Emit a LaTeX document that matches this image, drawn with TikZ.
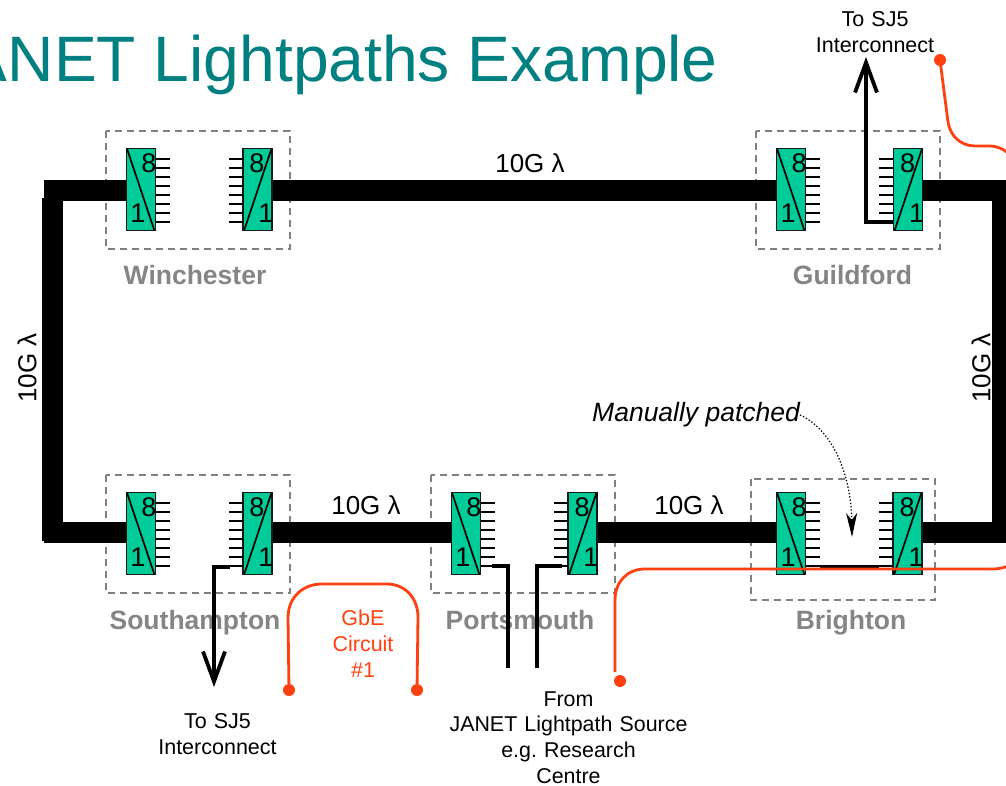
\documentclass[tikz,border=0pt]{standalone}
\usepackage{fontspec}
\setmainfont{Liberation Sans}
\usetikzlibrary{arrows.meta}
\definecolor{muxgreen}{HTML}{00CC99}
\definecolor{redline}{HTML}{FF4010}
\definecolor{teal1}{HTML}{008080}
\definecolor{graylab}{HTML}{858585}
\newcommand{\fsz}[1]{\fontsize{#1}{#1}\selectfont}
\frenchspacing
\tikzset{
  muxbox/.style={draw=black!90,line width=1.7pt,fill=muxgreen,minimum width=29pt,minimum height=82pt,inner sep=0pt},
  site/.style={draw=gray,line width=1.7pt,dash pattern=on 7pt off 5pt},
  sitelabel/.style={text=graylab,font=\fsz{26.5}\bfseries,inner sep=0pt,anchor=base},
  trunk/.style={line width=21pt,black},
  stub/.style={line width=2.2pt,black},
  feed/.style={line width=3.4pt,black,line join=miter},
  redpath/.style={line width=2.8pt,redline},
  reddot/.style={circle,fill=redline,inner sep=0pt,minimum size=12pt},
  lab/.style={font=\fsz{21},align=center,inner sep=0pt},
  wave/.style={font=\fsz{26},inner sep=0pt},
  digit/.style={font=\fsz{27},inner sep=0pt},
  barbhead/.style={-{Straight Barb[length=30pt,width=22pt,line width=3.8pt]}}
}
% name, centre x, top y; digit 8 on the right (L) or left (R)
\newcommand{\muxL}[3]{%
  \node[muxbox] (#1) at (#2,#3+41.5) {};
  \draw[line width=1.7pt] ([shift={(1.5pt,-1.5pt)}]#1.north west) -- ([shift={(-2pt,1pt)}]#1.south east);
  \node[digit] at (#2+8,#3+15.5) {8};
  \node[digit] at (#2-3,#3+65.5) {1};
  \foreach \k in {0,...,7}{\draw[stub] (#2+15,#3+11+9*\k) -- ++(14,0);}
}
\newcommand{\muxR}[3]{%
  \node[muxbox] (#1) at (#2,#3+41.5) {};
  \draw[line width=1.7pt] ([shift={(-1.5pt,-1.5pt)}]#1.north east) -- ([shift={(2pt,1pt)}]#1.south west);
  \node[digit] at (#2-0.5,#3+15.5) {8};
  \node[digit] at (#2+8.5,#3+65.5) {1};
  \foreach \k in {0,...,7}{\draw[stub] (#2-15,#3+11+9*\k) -- ++(-14,0);}
}
\begin{document}
\begin{tikzpicture}[x=1pt,y=-1pt]
\clip (0,0) rectangle (1006,786);
\fill[white] (0,0) rectangle (1006,786);
\node[anchor=base east,inner sep=0pt,text=teal1,font=\fsz{64.2}] (title) at (718,82) {JANET Lightpaths Example};

% site frames
\draw[site] (106,131) rectangle (290,249);
\draw[site] (756,131) rectangle (940,249);
\draw[site] (106,475) rectangle (290,593);
\draw[site] (431,475) rectangle (615,593);
\draw[site] (751,479) rectangle (935,600);

% site labels
\node[sitelabel] (lwin) at (195,284) {Winchester};
\node[sitelabel] (lgui) at (852.5,284) {Guildford};
\node[sitelabel] (lsou) at (195,629) {Southampton};
\node[sitelabel] (lpor) at (520,629) {Portsmouth};
\node[sitelabel] (lbri) at (851,629) {Brighton};

% multiplexers
\muxL{win1}{141}{148}\muxR{win2}{257.5}{148}
\muxL{gui1}{791}{148}\muxR{gui2}{908}{148}
\muxL{sou1}{141}{492}\muxR{sou2}{257.5}{492}
\muxL{por1}{466}{492}\muxR{por2}{582.5}{492}
\muxL{bri1}{791}{492}\muxR{bri2}{907.5}{492}

% free ends of the ring
\coordinate (tl) at (44,190.5);
\coordinate (bl) at (44,532.5);
\coordinate (l1) at (52.5,198);
\coordinate (l2) at (52.5,541);
\coordinate (tr) at (1012,190.5);
\coordinate (br) at (1012,532.5);
\coordinate (r1) at (1002.5,180);
\coordinate (r2) at (1002.5,543);

% ring
\draw[trunk] (tl) -- (tl -| win1.west);
\draw[trunk] (tl -| win2.east) -- (tl -| gui1.west);
\draw[trunk] (tl -| gui2.east) -- (tr);
\draw[trunk] (l1) -- (l2);
\draw[trunk] (r1) -- (r2);
\draw[trunk] (bl) -- (bl -| sou1.west);
\draw[trunk] (bl -| sou2.east) -- (bl -| por1.west);
\draw[trunk] (bl -| por2.east) -- (bl -| bri1.west);
\draw[trunk] (bl -| bri2.east) -- (br);

% black feeds
\coordinate (s0) at (230,567);
\coordinate (s1) at (214,567);
\coordinate (s2) at (214,687);
\draw[feed,barbhead] (s0) -- (s1) -- (s2);
\coordinate (g0) at (893,222);
\coordinate (g1) at (866,222);
\coordinate (g2) at (866,57);
\draw[feed,barbhead] (g0) -- (g1) -- (g2);
\coordinate (p0) at (492,566);
\coordinate (p1) at (508,566);
\coordinate (p2) at (508,668);
\coordinate (q0) at (562,566);
\coordinate (q1) at (537,566);
\coordinate (q2) at (537,668);
\draw[feed] (p0) -- (p1) -- (p2);
\draw[feed] (q0) -- (q1) -- (q2);
\coordinate (b0) at (820,567);
\coordinate (b1) at (879,567);
\draw[feed] (b0) -- (b1);

% red circuits
\node[reddot] (d1) at (289,690) {};
\node[reddot] (d2) at (417,690) {};
\node[reddot] (d3) at (620,681) {};
\node[reddot] (d4) at (940,60) {};
\coordinate (e1) at (1008,566);
\coordinate (e2) at (1008,153);
\draw[redpath] (d1.center) -- (288,618) .. controls (288,597) and (303,584) .. (322,584)
  -- (387,584) .. controls (405,584) and (418,598) .. (418,617) -- (d2.center);
\draw[redpath] (615,672) -- (615,600) .. controls (615,582) and (627,569) .. (645,569)
  -- (993,569) .. controls (998,569) and (1003,568) .. (e1);
\draw[redpath] (d4.center) -- (948,122) .. controls (950,136) and (961,146) .. (975,146)
  -- (990,146) .. controls (997,146) and (1003,149) .. (e2);

% patch note
\node[anchor=base west,inner sep=0pt,font=\fsz{26.5}\itshape] (note) at (592,421) {Manually patched};
\coordinate (n0) at (800,415);
\coordinate (n1) at (852,537);
\draw[line width=1.3pt,dotted,-{Stealth[length=24pt,width=11pt,inset=7pt]}] (n0) .. controls (833,430) and (851,475) .. (n1);

% texts
\node[wave] (w1) at (530,163) {10G λ};
\node[wave] (w2) at (366,505) {10G λ};
\node[wave] (w3) at (689,505) {10G λ};
\node[wave,rotate=90] (w4) at (27,368) {10G λ};
\node[wave,rotate=90] (w5) at (981,368) {10G λ};
\node[lab,text width=160pt,font=\fontsize{21.5}{26}\selectfont] (t1) at (875,32) {To SJ5\\Interconnect};
\node[lab,text width=160pt,font=\fontsize{21.5}{26}\selectfont] (t2) at (217.5,734) {To SJ5\\Interconnect};
\node[lab,text width=300pt,font=\fontsize{21.4}{25.7}\selectfont] (t3) at (568.5,737.5) {From\\JANET Lightpath Source\\e.g. Research\\Centre};
\node[lab,text width=100pt,text=redline,font=\fontsize{21.5}{26}\selectfont] (t4) at (363,644) {GbE\\Circuit\\\#1};
\end{tikzpicture}
\end{document}
